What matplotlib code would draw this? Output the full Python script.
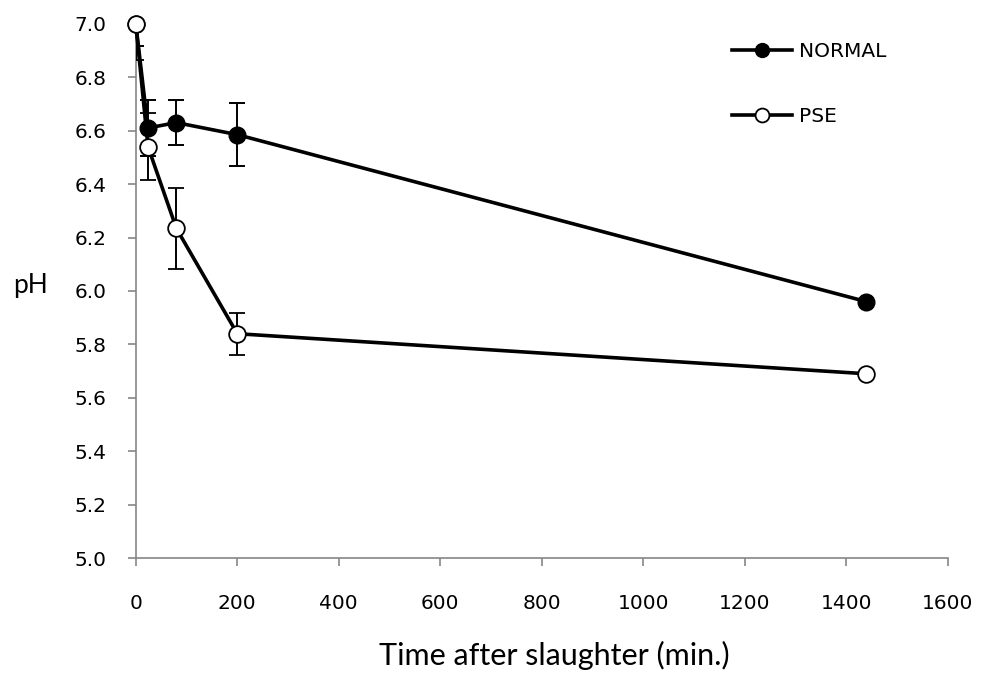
import matplotlib
matplotlib.use("Agg")
import matplotlib.pyplot as plt
from matplotlib.lines import Line2D

# --- dane ---
time_min = [0, 24, 80, 200, 1440]
normal_ph = [7.0, 6.61, 6.63, 6.585, 5.96]
normal_err = [0.085, 0.105, 0.085, 0.117, 0.0]
pse_ph = [7.0, 6.54, 6.234, 5.84, 5.69]
pse_err = [0.135, 0.125, 0.153, 0.079, 0.0]

x_ticks = [0, 200, 400, 600, 800, 1000, 1200, 1400, 1600]
y_ticks = [5.0, 5.2, 5.4, 5.6, 5.8, 6.0, 6.2, 6.4, 6.6, 6.8, 7.0]

AXIS_GRAY = "#868686"
TICK_FONT = "DejaVu Sans"
LABEL_FONT = "Lato"

fig = plt.figure(figsize=(9.84, 6.79), dpi=100, facecolor="white")
ax = fig.add_axes([0.138, 0.178, 0.825, 0.787])

normal = ax.errorbar(time_min, normal_ph, yerr=normal_err, color="black", lw=2.6,
                     marker="o", markersize=12, markerfacecolor="black",
                     markeredgecolor="black", elinewidth=1.4, capsize=6, capthick=1.4,
                     zorder=3)
pse = ax.errorbar(time_min, pse_ph, yerr=pse_err, color="black", lw=2.6,
                  marker="o", markersize=12, markerfacecolor="white",
                  markeredgecolor="black", markeredgewidth=1.3, elinewidth=1.4,
                  capsize=6, capthick=1.4, zorder=4)

# tylko linie danych poza obszarem osi (punkt 7.0 na krawędzi)
normal.lines[0].set_clip_on(False)
pse.lines[0].set_clip_on(False)

ax.set_xlim(0, 1600)
ax.set_ylim(5.0, 7.0)
ax.set_xticks(x_ticks)
ax.set_yticks(y_ticks)
ax.set_xticklabels([str(t) for t in x_ticks], fontsize=14.5, family=TICK_FONT)
ax.set_yticklabels([f"{t:.1f}" for t in y_ticks], fontsize=14.5, family=TICK_FONT)

# styl osi jak w Excelu
ax.spines['top'].set_visible(False)
ax.spines['right'].set_visible(False)
ax.spines['left'].set_color(AXIS_GRAY)
ax.spines['bottom'].set_color(AXIS_GRAY)
ax.spines['left'].set_linewidth(1.2)
ax.spines['bottom'].set_linewidth(1.2)
ax.tick_params(axis='x', direction='out', length=6, width=1.2, color=AXIS_GRAY, pad=20)
ax.tick_params(axis='y', direction='out', length=6, width=1.2, color=AXIS_GRAY, pad=15)

ax.set_xlabel("Time after slaughter (min.)", fontsize=22, family=LABEL_FONT)
ax.xaxis.set_label_coords(0.516, -0.155)
fig.text(0.031, 0.58, "pH", fontsize=19, family=LABEL_FONT, ha="center", va="center")

handles = [
    Line2D([], [], color="black", lw=2.6, marker="o", markersize=10,
           markerfacecolor="black", markeredgecolor="black"),
    Line2D([], [], color="black", lw=2.6, marker="o", markersize=10,
           markerfacecolor="white", markeredgecolor="black", markeredgewidth=1.3),
]
ax.legend(handles, ["NORMAL", "PSE"], loc="upper left", bbox_to_anchor=(0.712, 1.0),
          frameon=False, handlelength=3.0, handletextpad=0.35,
          labelspacing=2.3, prop={"family": TICK_FONT, "size": 14.5})

fig.savefig("out.png", dpi=100, facecolor="white")
